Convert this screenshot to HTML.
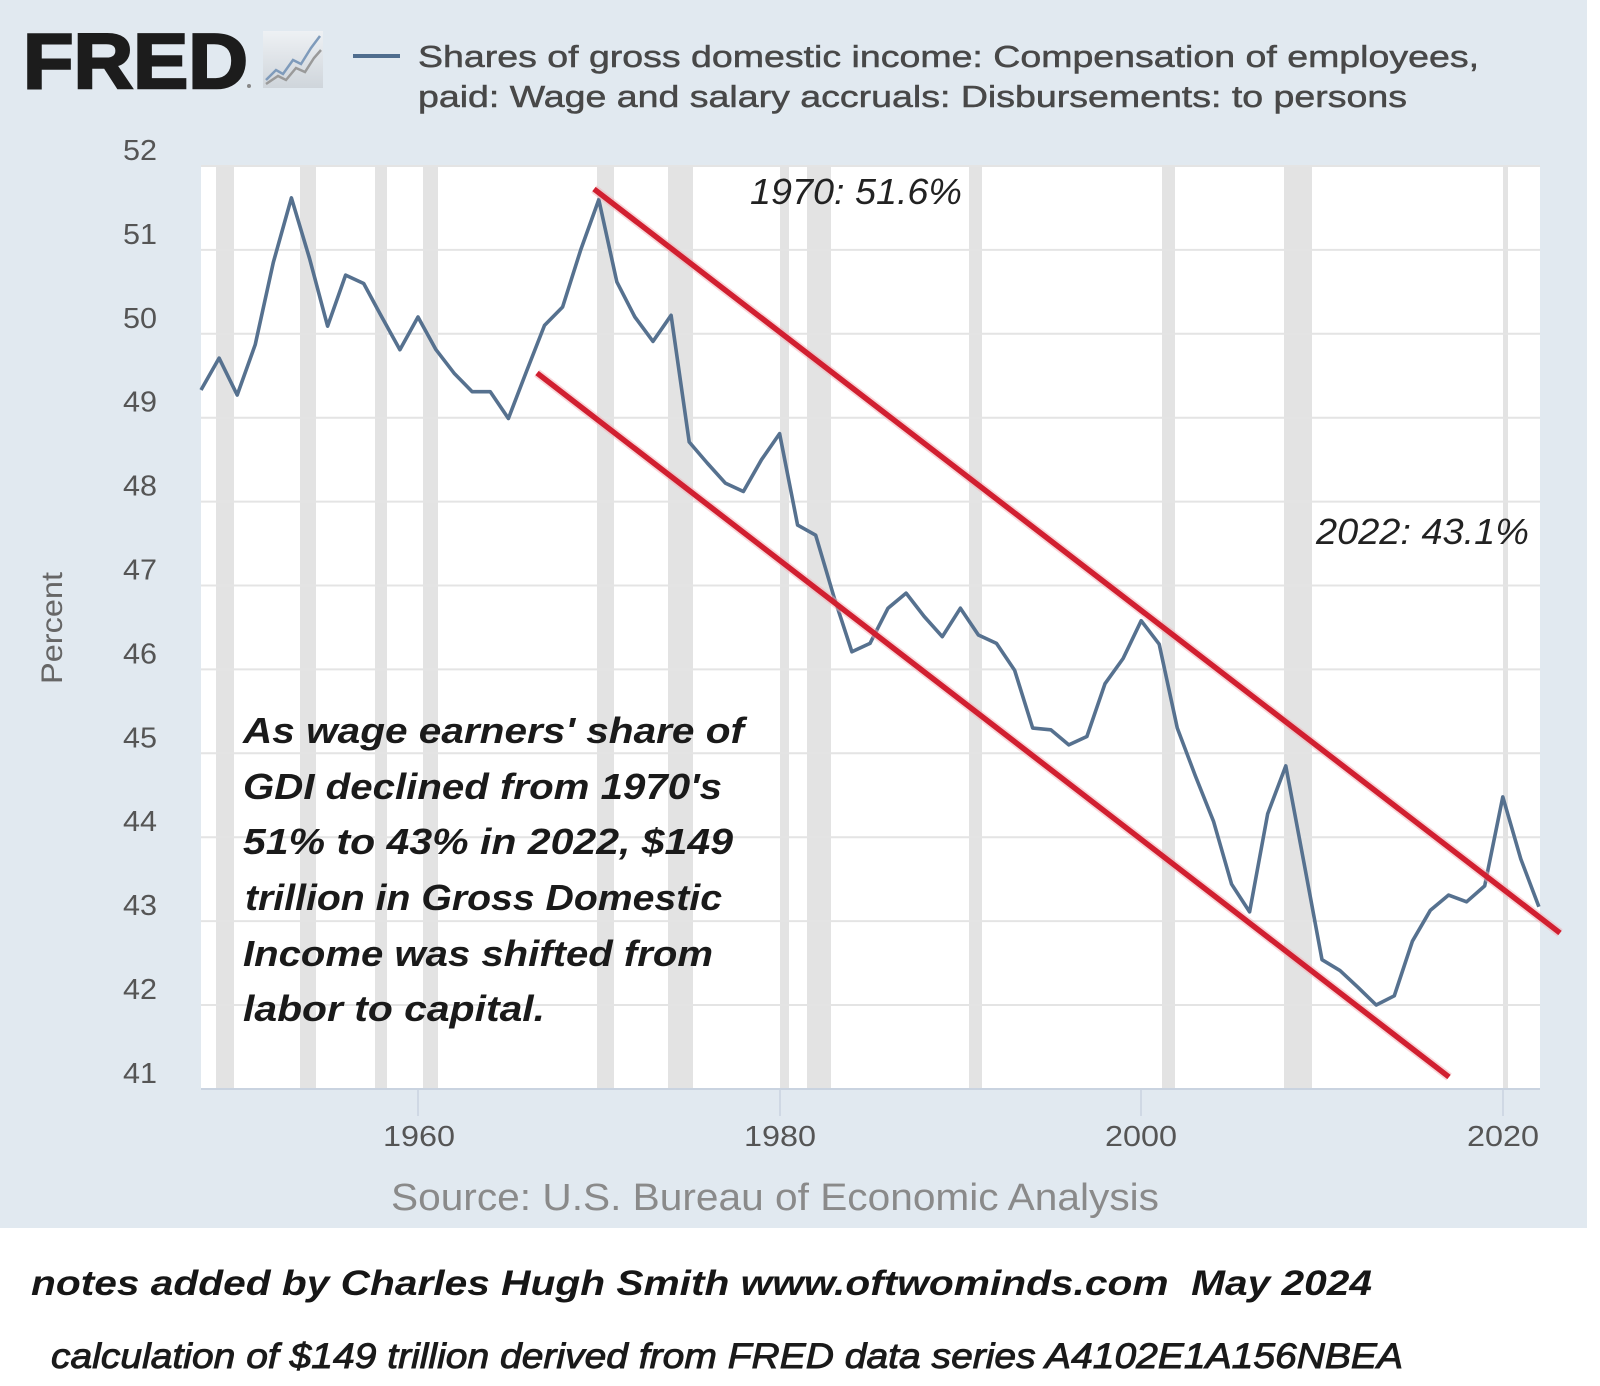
<!DOCTYPE html>
<html>
<head>
<meta charset="utf-8">
<style>
html,body{margin:0;padding:0;background:#ffffff;}
svg{display:block;}
</style>
</head>
<body>
<svg width="1600" height="1386" viewBox="0 0 1600 1386" xmlns="http://www.w3.org/2000/svg">
<defs>
<linearGradient id="ig" x1="0" y1="0" x2="0" y2="1">
<stop offset="0" stop-color="#eef1f4"/>
<stop offset="1" stop-color="#cfd5db"/>
</linearGradient>
</defs>
<rect x="0" y="0" width="1600" height="1386" fill="#ffffff"/>
<rect x="0" y="0" width="1587" height="1228" fill="#e1e9f0"/>

<!-- FRED logo -->
<text x="23" y="88" font-family="Liberation Sans, Arial, sans-serif" font-weight="bold" font-size="78" fill="#1c1c1c" stroke="#1c1c1c" stroke-width="2.5" textLength="225" lengthAdjust="spacingAndGlyphs">FRED</text>
<circle cx="249" cy="86" r="2" fill="#888"/>
<rect x="263" y="31" width="60" height="57" fill="url(#ig)"/>
<polyline points="266,80 276,70 283,74 293,60 301,64 311,48 320,36" fill="none" stroke="#7f9bbb" stroke-width="2.5"/>
<polyline points="266,84 278,76 286,80 296,68 305,72 314,58 321,50" fill="none" stroke="#9a9a9a" stroke-width="2.5"/>

<!-- Legend -->
<line x1="353" y1="56" x2="400" y2="56" stroke="#4f6d8e" stroke-width="4"/>
<text x="418" y="67" font-family="Liberation Sans, Arial, sans-serif" font-size="31" fill="#484848" stroke="#484848" stroke-width="0.5" textLength="1061" lengthAdjust="spacingAndGlyphs">Shares of gross domestic income: Compensation of employees,</text>
<text x="418" y="107" font-family="Liberation Sans, Arial, sans-serif" font-size="31" fill="#484848" stroke="#484848" stroke-width="0.5" textLength="989" lengthAdjust="spacingAndGlyphs">paid: Wage and salary accruals: Disbursements: to persons</text>

<!-- Plot area -->
<rect x="201" y="166" width="1339" height="923" fill="#ffffff"/>

<!-- Recession bars -->
<g fill="#e3e3e3">
<rect x="216" y="166" width="18" height="923"/>
<rect x="300" y="166" width="16" height="923"/>
<rect x="375" y="166" width="12" height="923"/>
<rect x="423" y="166" width="15" height="923"/>
<rect x="597" y="166" width="17" height="923"/>
<rect x="668" y="166" width="25" height="923"/>
<rect x="780" y="166" width="9" height="923"/>
<rect x="807" y="166" width="24" height="923"/>
<rect x="969" y="166" width="13" height="923"/>
<rect x="1162" y="166" width="13" height="923"/>
<rect x="1284" y="166" width="28" height="923"/>
<rect x="1503" y="166" width="5" height="923"/>
</g>

<!-- Gridlines -->
<g stroke="#e4e4e4" stroke-width="2">
<line x1="201" y1="166" x2="1540" y2="166"/>
<line x1="201" y1="249.9" x2="1540" y2="249.9"/>
<line x1="201" y1="333.8" x2="1540" y2="333.8"/>
<line x1="201" y1="417.7" x2="1540" y2="417.7"/>
<line x1="201" y1="501.6" x2="1540" y2="501.6"/>
<line x1="201" y1="585.5" x2="1540" y2="585.5"/>
<line x1="201" y1="669.4" x2="1540" y2="669.4"/>
<line x1="201" y1="753.3" x2="1540" y2="753.3"/>
<line x1="201" y1="837.2" x2="1540" y2="837.2"/>
<line x1="201" y1="921.1" x2="1540" y2="921.1"/>
<line x1="201" y1="1005" x2="1540" y2="1005"/>
</g>
<!-- X axis -->
<line x1="201" y1="1089" x2="1540" y2="1089" stroke="#c9d3e0" stroke-width="2"/>
<g stroke="#c9d3e0" stroke-width="1.5">
<line x1="418" y1="1089" x2="418" y2="1116"/>
<line x1="780" y1="1089" x2="780" y2="1116"/>
<line x1="1141" y1="1089" x2="1141" y2="1116"/>
<line x1="1503" y1="1089" x2="1503" y2="1116"/>
</g>

<!-- Y labels -->
<g font-family="Liberation Sans, Arial, sans-serif" font-size="29" fill="#555555">
<text x="123" y="160" textLength="34" lengthAdjust="spacingAndGlyphs">52</text>
<text x="123" y="243.9" textLength="34" lengthAdjust="spacingAndGlyphs">51</text>
<text x="123" y="327.8" textLength="34" lengthAdjust="spacingAndGlyphs">50</text>
<text x="123" y="411.7" textLength="34" lengthAdjust="spacingAndGlyphs">49</text>
<text x="123" y="495.6" textLength="34" lengthAdjust="spacingAndGlyphs">48</text>
<text x="123" y="579.5" textLength="34" lengthAdjust="spacingAndGlyphs">47</text>
<text x="123" y="663.4" textLength="34" lengthAdjust="spacingAndGlyphs">46</text>
<text x="123" y="747.3" textLength="34" lengthAdjust="spacingAndGlyphs">45</text>
<text x="123" y="831.2" textLength="34" lengthAdjust="spacingAndGlyphs">44</text>
<text x="123" y="915.1" textLength="34" lengthAdjust="spacingAndGlyphs">43</text>
<text x="123" y="999" textLength="34" lengthAdjust="spacingAndGlyphs">42</text>
<text x="123" y="1083" textLength="34" lengthAdjust="spacingAndGlyphs">41</text>
</g>
<!-- X labels -->
<g font-family="Liberation Sans, Arial, sans-serif" font-size="29" fill="#555555">
<text x="383" y="1146" textLength="72" lengthAdjust="spacingAndGlyphs">1960</text>
<text x="744" y="1146" textLength="72" lengthAdjust="spacingAndGlyphs">1980</text>
<text x="1105" y="1146" textLength="72" lengthAdjust="spacingAndGlyphs">2000</text>
<text x="1467" y="1146" textLength="72" lengthAdjust="spacingAndGlyphs">2020</text>
</g>
<!-- Percent -->
<text transform="translate(62,628) rotate(-90)" text-anchor="middle" font-family="Liberation Sans, Arial, sans-serif" font-size="30" fill="#666666" textLength="112" lengthAdjust="spacingAndGlyphs">Percent</text>

<!-- Source -->
<text x="391" y="1210" font-family="Liberation Sans, Arial, sans-serif" font-size="38" fill="#8a8a8a" textLength="768" lengthAdjust="spacingAndGlyphs">Source: U.S. Bureau of Economic Analysis</text>

<!-- Series -->
<polyline fill="none" stroke="#56718f" stroke-width="3.6" stroke-linejoin="round" points="201.0,390.0 219.1,358.1 237.2,395.0 255.2,344.7 273.3,262.5 291.4,197.9 309.5,258.3 327.6,326.2 345.6,275.1 363.7,283.5 381.8,317.0 399.9,349.7 418.0,317.0 436.0,349.7 454.1,373.2 472.2,391.7 490.3,391.7 508.4,418.5 526.4,371.6 544.5,325.4 562.6,307.0 580.7,249.9 598.8,199.6 616.8,281.8 634.9,317.0 653.0,341.4 671.1,315.3 689.2,442.0 707.2,463.0 725.3,483.1 743.4,491.5 761.5,459.7 779.6,433.6 797.6,525.1 815.7,535.2 833.8,596.4 851.9,651.8 870.0,643.4 888.0,608.2 906.1,593.1 924.2,616.5 942.3,636.7 960.4,608.2 978.4,635.0 996.5,643.4 1014.6,670.2 1032.7,728.1 1050.8,729.8 1068.8,744.9 1086.9,736.5 1105.0,683.7 1123.1,658.5 1141.2,620.7 1159.2,644.2 1177.3,728.1 1195.4,776.0 1213.5,821.3 1231.6,884.2 1249.6,911.9 1267.7,813.7 1285.8,765.9 1303.9,862.4 1322.0,959.7 1340.0,970.6 1358.1,987.4 1376.2,1005.0 1394.3,995.8 1412.4,941.2 1430.4,910.2 1448.5,895.1 1466.6,901.8 1484.7,885.9 1502.8,796.9 1520.8,859.0 1538.9,906.8"/>

<!-- Annotations -->
<g font-family="Liberation Sans, Arial, sans-serif" font-style="italic" font-size="36" fill="#222222">
<text x="750" y="204" textLength="212" lengthAdjust="spacingAndGlyphs">1970: 51.6%</text>
<text x="1316" y="544" textLength="213" lengthAdjust="spacingAndGlyphs">2022: 43.1%</text>
</g>
<g font-family="Liberation Sans, Arial, sans-serif" font-style="italic" font-weight="bold" font-size="36" fill="#1a1a1a">
<text x="243" y="743" textLength="501" lengthAdjust="spacingAndGlyphs">As wage earners' share of</text>
<text x="243" y="799" textLength="479" lengthAdjust="spacingAndGlyphs">GDI declined from 1970's</text>
<text x="243" y="854" textLength="490" lengthAdjust="spacingAndGlyphs">51% to 43% in 2022, $149</text>
<text x="245" y="910" textLength="477" lengthAdjust="spacingAndGlyphs">trillion in Gross Domestic</text>
<text x="243" y="966" textLength="470" lengthAdjust="spacingAndGlyphs">Income was shifted from</text>
<text x="243" y="1021" textLength="302" lengthAdjust="spacingAndGlyphs">labor to capital.</text>
</g>

<!-- Red trend lines -->
<g stroke-linecap="butt">
<line x1="594" y1="189" x2="1560" y2="933" stroke="#f2b0b6" stroke-width="9" opacity="0.5"/>
<line x1="537" y1="373" x2="1449" y2="1077" stroke="#f2b0b6" stroke-width="9" opacity="0.5"/>
<line x1="594" y1="189" x2="1560" y2="933" stroke="#d11f30" stroke-width="5.5"/>
<line x1="537" y1="373" x2="1449" y2="1077" stroke="#d11f30" stroke-width="5.5"/>
</g>

<!-- Bottom notes -->
<text x="31" y="1295" font-family="Liberation Sans, Arial, sans-serif" font-style="italic" font-weight="bold" font-size="35" fill="#161616" textLength="1341" lengthAdjust="spacingAndGlyphs">notes added by Charles Hugh Smith www.oftwominds.com&#160; May 2024</text>
<text x="51" y="1368" font-family="Liberation Sans, Arial, sans-serif" font-style="italic" font-size="35" fill="#1a1a1a" stroke="#1a1a1a" stroke-width="0.9" textLength="1352" lengthAdjust="spacingAndGlyphs">calculation of $149 trillion derived from FRED data series A4102E1A156NBEA</text>
</svg>
</body>
</html>
